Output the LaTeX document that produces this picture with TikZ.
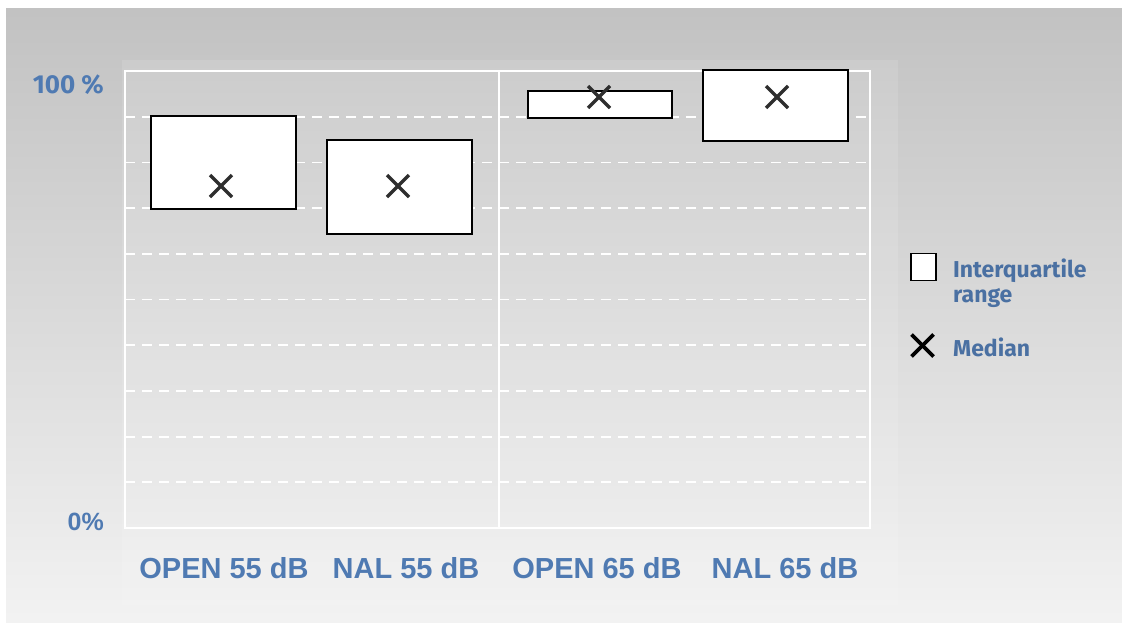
\documentclass[tikz,border=0pt]{standalone}
\usepackage{fontspec}
\setmainfont{Liberation Sans}
\newfontfamily\legfont{Fira Sans}
\definecolor{lblblue}{HTML}{4F7AB2}
\definecolor{legblue}{HTML}{4A70A2}
\definecolor{xgray}{HTML}{2E2E2E}
\begin{document}
\begin{tikzpicture}[x=1pt,y=-1pt,
  frame/.style={draw=white,line width=1.6pt},
  grid/.style={draw=white,line width=1.8pt,dash pattern=on 10pt off 7pt},
  iqr/.style={draw=black,fill=white,line width=2pt,inner sep=0pt,rectangle},
  medx/.style={draw=xgray,line width=3.5pt},
  cat/.style={text=lblblue,font=\fontsize{29}{32}\selectfont\bfseries,inner sep=0pt,anchor=center},
  ylab/.style={text=lblblue,inner sep=0pt},
  leg/.style={text=legblue,font=\legfont\fontsize{23}{25}\selectfont\bfseries,inner sep=0pt,anchor=west,align=left}]
\useasboundingbox (0,0) rectangle (1122,622);
\fill[white] (0,0) rectangle (1122,622);
\shade[top color=black!24,bottom color=black!5] (6,8) rectangle (1122,622);
\fill[white,opacity=0.12] (122,60) rectangle (898,605);
% plot area
\coordinate (TL) at (125,71);
\coordinate (TR) at (870,71);
\coordinate (BL) at (125,528);
\coordinate (BR) at (870,528);
\coordinate (MT) at (499,71);
\coordinate (MB) at (499,528);
\foreach \k in {1,...,9}{
  \draw[grid] (125,{71+45.7*\k}) -- (870,{71+45.7*\k});
}
\draw[frame] (BL) -- (TL) -- (TR) -- (BR) -- cycle;
\draw[frame] (MT) -- (MB);
% boxes
\node[iqr,minimum width=145pt,minimum height=93pt] (b1) at (223.5,162.5) {};
\node[iqr,minimum width=145pt,minimum height=94pt] (b2) at (399.5,187) {};
\node[iqr,minimum width=144pt,minimum height=27pt] (b3) at (600,104.5) {};
\node[iqr,minimum width=145pt,minimum height=71pt] (b4) at (775.5,105.5) {};
% medians
\foreach \n/\mx/\my in {m1/221/186, m2/398/186, m3/599/97, m4/777/97}{
  \coordinate (\n) at (\mx,\my);
  \draw[medx] ([shift={(-11,-11)}]\n) -- ([shift={(11,11)}]\n);
  \draw[medx] ([shift={(-11,11)}]\n) -- ([shift={(11,-11)}]\n);
}
% axis labels
\node[ylab,font=\legfont\fontsize{26}{28}\selectfont\bfseries,anchor=east] (y100) at (104,85) {100 \%};
\node[ylab,font=\fontsize{25}{27}\selectfont\bfseries,anchor=east] (y0) at (104,522) {0\%};
% category labels
\node[cat] (c1) at (224,568) {OPEN 55 dB};
\node[cat] (c2) at (406,568) {NAL 55 dB};
\node[cat] (c3) at (597,568) {OPEN 65 dB};
\node[cat] (c4) at (785,568) {NAL 65 dB};
% legend
\node[iqr,line width=1.8pt,minimum width=25pt,minimum height=27pt] (lbox) at (923.5,267) {};
\coordinate (lx) at (922.5,345.5);
\draw[draw=black,line width=3.8pt] ([shift={(-11,-11)}]lx) -- ([shift={(11,11)}]lx);
\draw[draw=black,line width=3.8pt] ([shift={(-11,11)}]lx) -- ([shift={(11,-11)}]lx);
\node[leg] (ltext) at (953,283) {Interquartile\\range};
\node[leg] (mtext) at (953,347) {Median};
\end{tikzpicture}
\end{document}
